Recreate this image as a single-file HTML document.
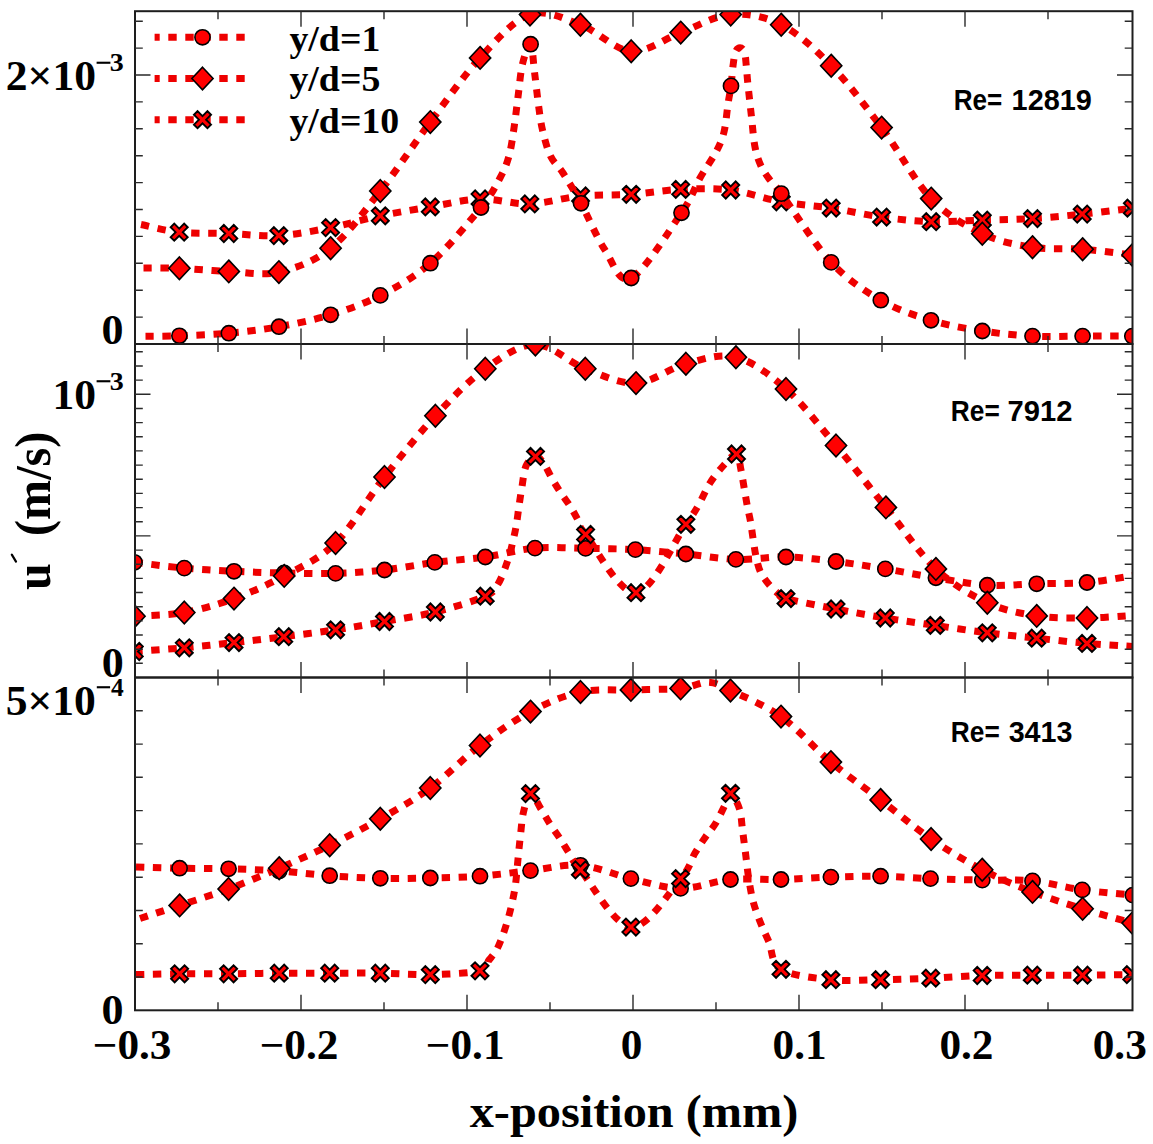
<!DOCTYPE html>
<html><head><meta charset="utf-8"><title>chart</title>
<style>html,body{margin:0;padding:0;background:#fff;width:1153px;height:1144px;overflow:hidden}svg{display:block}</style>
</head><body>
<svg width="1153" height="1144" viewBox="0 0 1153 1144">
<defs>
<clipPath id="cp0"><rect x="135.0" y="11.2" width="997.5" height="332.8"/></clipPath>
<clipPath id="cp1"><rect x="135.0" y="344.0" width="997.5" height="333.5"/></clipPath>
<clipPath id="cp2"><rect x="135.0" y="677.5" width="997.5" height="332.8"/></clipPath>
</defs>
<rect width="1153" height="1144" fill="#fff"/>
<g clip-path="url(#cp0)">
<path d="M141.00 224.50 C147.37 225.78 164.57 230.70 179.20 232.20 C193.83 233.70 212.20 232.93 228.80 233.50 C245.40 234.07 261.83 236.58 278.80 235.60 C295.77 234.62 313.68 230.90 330.60 227.60 C347.52 224.30 363.68 219.25 380.30 215.80 C396.92 212.35 413.67 209.70 430.30 206.90 C446.93 204.10 463.52 199.50 480.10 199.00 C496.68 198.50 513.05 204.40 529.80 203.90 C546.55 203.40 563.70 197.60 580.60 196.00 C597.50 194.40 614.52 195.40 631.20 194.30 C647.88 193.20 664.12 190.12 680.70 189.40 C697.28 188.68 713.93 187.93 730.70 190.00 C747.47 192.07 764.55 198.78 781.30 201.80 C798.05 204.82 814.48 205.55 831.20 208.10 C847.92 210.65 864.93 214.83 881.60 217.10 C898.27 219.37 914.42 221.20 931.20 221.70 C947.98 222.20 965.42 220.62 982.30 220.10 C999.18 219.58 1015.85 219.60 1032.50 218.60 C1049.15 217.60 1065.55 215.83 1082.20 214.10 C1098.85 212.37 1124.03 209.18 1132.40 208.20" fill="none" stroke="#ee0000" stroke-width="7" stroke-dasharray="8.4 8.6"/>
<g fill="#ff0000" stroke="#000000" stroke-width="1.9" stroke-linejoin="miter">
<path d="M187.75 237.15L184.15 240.75L179.20 235.80L174.25 240.75L170.65 237.15L175.60 232.20L170.65 227.25L174.25 223.65L179.20 228.60L184.15 223.65L187.75 227.25L182.80 232.20Z"/>
<path d="M237.35 238.45L233.75 242.05L228.80 237.10L223.85 242.05L220.25 238.45L225.20 233.50L220.25 228.55L223.85 224.95L228.80 229.90L233.75 224.95L237.35 228.55L232.40 233.50Z"/>
<path d="M287.35 240.55L283.75 244.15L278.80 239.20L273.85 244.15L270.25 240.55L275.20 235.60L270.25 230.65L273.85 227.05L278.80 232.00L283.75 227.05L287.35 230.65L282.40 235.60Z"/>
<path d="M339.15 232.55L335.55 236.15L330.60 231.20L325.65 236.15L322.05 232.55L327.00 227.60L322.05 222.65L325.65 219.05L330.60 224.00L335.55 219.05L339.15 222.65L334.20 227.60Z"/>
<path d="M388.85 220.75L385.25 224.35L380.30 219.40L375.35 224.35L371.75 220.75L376.70 215.80L371.75 210.85L375.35 207.25L380.30 212.20L385.25 207.25L388.85 210.85L383.90 215.80Z"/>
<path d="M438.85 211.85L435.25 215.45L430.30 210.50L425.35 215.45L421.75 211.85L426.70 206.90L421.75 201.95L425.35 198.35L430.30 203.30L435.25 198.35L438.85 201.95L433.90 206.90Z"/>
<path d="M488.65 203.95L485.05 207.55L480.10 202.60L475.15 207.55L471.55 203.95L476.50 199.00L471.55 194.05L475.15 190.45L480.10 195.40L485.05 190.45L488.65 194.05L483.70 199.00Z"/>
<path d="M538.35 208.85L534.75 212.45L529.80 207.50L524.85 212.45L521.25 208.85L526.20 203.90L521.25 198.95L524.85 195.35L529.80 200.30L534.75 195.35L538.35 198.95L533.40 203.90Z"/>
<path d="M589.15 200.95L585.55 204.55L580.60 199.60L575.65 204.55L572.05 200.95L577.00 196.00L572.05 191.05L575.65 187.45L580.60 192.40L585.55 187.45L589.15 191.05L584.20 196.00Z"/>
<path d="M639.75 199.25L636.15 202.85L631.20 197.90L626.25 202.85L622.65 199.25L627.60 194.30L622.65 189.35L626.25 185.75L631.20 190.70L636.15 185.75L639.75 189.35L634.80 194.30Z"/>
<path d="M689.25 194.35L685.65 197.95L680.70 193.00L675.75 197.95L672.15 194.35L677.10 189.40L672.15 184.45L675.75 180.85L680.70 185.80L685.65 180.85L689.25 184.45L684.30 189.40Z"/>
<path d="M739.25 194.95L735.65 198.55L730.70 193.60L725.75 198.55L722.15 194.95L727.10 190.00L722.15 185.05L725.75 181.45L730.70 186.40L735.65 181.45L739.25 185.05L734.30 190.00Z"/>
<path d="M789.85 206.75L786.25 210.35L781.30 205.40L776.35 210.35L772.75 206.75L777.70 201.80L772.75 196.85L776.35 193.25L781.30 198.20L786.25 193.25L789.85 196.85L784.90 201.80Z"/>
<path d="M839.75 213.05L836.15 216.65L831.20 211.70L826.25 216.65L822.65 213.05L827.60 208.10L822.65 203.15L826.25 199.55L831.20 204.50L836.15 199.55L839.75 203.15L834.80 208.10Z"/>
<path d="M890.15 222.05L886.55 225.65L881.60 220.70L876.65 225.65L873.05 222.05L878.00 217.10L873.05 212.15L876.65 208.55L881.60 213.50L886.55 208.55L890.15 212.15L885.20 217.10Z"/>
<path d="M939.75 226.65L936.15 230.25L931.20 225.30L926.25 230.25L922.65 226.65L927.60 221.70L922.65 216.75L926.25 213.15L931.20 218.10L936.15 213.15L939.75 216.75L934.80 221.70Z"/>
<path d="M990.85 225.05L987.25 228.65L982.30 223.70L977.35 228.65L973.75 225.05L978.70 220.10L973.75 215.15L977.35 211.55L982.30 216.50L987.25 211.55L990.85 215.15L985.90 220.10Z"/>
<path d="M1041.05 223.55L1037.45 227.15L1032.50 222.20L1027.55 227.15L1023.95 223.55L1028.90 218.60L1023.95 213.65L1027.55 210.05L1032.50 215.00L1037.45 210.05L1041.05 213.65L1036.10 218.60Z"/>
<path d="M1090.75 219.05L1087.15 222.65L1082.20 217.70L1077.25 222.65L1073.65 219.05L1078.60 214.10L1073.65 209.15L1077.25 205.55L1082.20 210.50L1087.15 205.55L1090.75 209.15L1085.80 214.10Z"/>
<path d="M1140.95 213.15L1137.35 216.75L1132.40 211.80L1127.45 216.75L1123.85 213.15L1128.80 208.20L1123.85 203.25L1127.45 199.65L1132.40 204.60L1137.35 199.65L1140.95 203.25L1136.00 208.20Z"/>
</g>
<path d="M145.50 336.30 C151.15 336.22 165.50 336.32 179.40 335.80 C193.30 335.28 212.30 334.72 228.90 333.20 C245.50 331.68 262.05 329.77 279.00 326.70 C295.95 323.63 313.72 320.02 330.60 314.80 C347.48 309.58 363.67 304.00 380.30 295.40 C396.93 286.80 413.62 277.85 430.40 263.20 C447.18 248.55 469.40 221.70 481.00 207.50 C492.60 193.30 495.33 186.58 500.00 178.00 C504.67 169.42 506.67 164.33 509.00 156.00 C511.33 147.67 512.50 137.83 514.00 128.00 C515.50 118.17 516.58 107.67 518.00 97.00 C519.42 86.33 520.40 72.80 522.50 64.00 C524.60 55.20 528.60 42.87 530.60 44.20 C532.60 45.53 533.18 61.87 534.50 72.00 C535.82 82.13 537.17 95.33 538.50 105.00 C539.83 114.67 540.50 121.50 542.50 130.00 C544.50 138.50 547.08 148.83 550.50 156.00 C553.92 163.17 557.92 165.12 563.00 173.00 C568.08 180.88 574.00 190.47 581.00 203.30 C588.00 216.13 596.63 237.55 605.00 250.00 C613.37 262.45 618.45 284.20 631.20 278.00 C643.95 271.80 670.03 229.47 681.50 212.80 C692.97 196.13 694.25 188.13 700.00 178.00 C705.75 167.87 712.00 159.67 716.00 152.00 C720.00 144.33 722.00 140.00 724.00 132.00 C726.00 124.00 726.83 111.68 728.00 104.00 C729.17 96.32 730.17 92.23 731.00 85.90 C731.83 79.57 732.25 71.65 733.00 66.00 C733.75 60.35 734.33 55.03 735.50 52.00 C736.67 48.97 738.50 47.80 740.00 47.80 C741.50 47.80 743.45 48.97 744.50 52.00 C745.55 55.03 745.75 60.83 746.30 66.00 C746.85 71.17 746.93 74.50 747.80 83.00 C748.67 91.50 750.30 106.33 751.50 117.00 C752.70 127.67 753.42 138.83 755.00 147.00 C756.58 155.17 758.50 160.50 761.00 166.00 C763.50 171.50 766.62 175.40 770.00 180.00 C773.38 184.60 771.10 179.87 781.30 193.60 C791.50 207.33 814.62 244.63 831.20 262.40 C847.78 280.17 864.17 290.55 880.80 300.20 C897.43 309.85 914.08 315.17 931.00 320.30 C947.92 325.43 965.38 328.37 982.30 331.00 C999.22 333.63 1015.78 335.25 1032.50 336.10 C1049.22 336.95 1065.97 336.10 1082.60 336.10 C1099.23 336.10 1124.02 336.10 1132.30 336.10" fill="none" stroke="#ee0000" stroke-width="7" stroke-dasharray="8.4 8.6"/>
<g fill="#ff0000" stroke="#000000" stroke-width="1.6" stroke-linejoin="miter">
<circle cx="179.4" cy="335.8" r="7.6"/>
<circle cx="228.9" cy="333.2" r="7.6"/>
<circle cx="279.0" cy="326.7" r="7.6"/>
<circle cx="330.6" cy="314.8" r="7.6"/>
<circle cx="380.3" cy="295.4" r="7.6"/>
<circle cx="430.4" cy="263.2" r="7.6"/>
<circle cx="481.0" cy="207.5" r="7.6"/>
<circle cx="530.6" cy="44.2" r="7.6"/>
<circle cx="581.0" cy="203.3" r="7.6"/>
<circle cx="631.2" cy="278.0" r="7.6"/>
<circle cx="681.5" cy="212.8" r="7.6"/>
<circle cx="731.0" cy="85.9" r="7.6"/>
<circle cx="781.3" cy="193.6" r="7.6"/>
<circle cx="831.2" cy="262.4" r="7.6"/>
<circle cx="880.8" cy="300.2" r="7.6"/>
<circle cx="931.0" cy="320.3" r="7.6"/>
<circle cx="982.3" cy="331.0" r="7.6"/>
<circle cx="1032.5" cy="336.1" r="7.6"/>
<circle cx="1082.6" cy="336.1" r="7.6"/>
<circle cx="1132.3" cy="336.1" r="7.6"/>
</g>
<path d="M143.50 268.00 C149.48 268.05 165.18 267.73 179.40 268.30 C193.62 268.87 212.22 270.77 228.80 271.40 C245.38 272.03 261.93 275.97 278.90 272.10 C295.87 268.23 313.70 261.72 330.60 248.20 C347.50 234.68 363.68 212.02 380.30 191.00 C396.92 169.98 413.67 144.28 430.30 122.10 C446.93 99.92 463.48 75.83 480.10 57.90 C496.72 39.97 513.28 20.03 530.00 14.50 C546.72 8.97 563.53 18.57 580.40 24.70 C597.27 30.83 614.48 49.98 631.20 51.30 C647.92 52.62 664.12 38.73 680.70 32.60 C697.28 26.47 713.95 15.82 730.70 14.50 C747.45 13.18 764.45 16.17 781.20 24.70 C797.95 33.23 814.47 48.55 831.20 65.70 C847.93 82.85 864.93 105.45 881.60 127.60 C898.27 149.75 914.42 180.92 931.20 198.60 C947.98 216.28 965.42 225.60 982.30 233.70 C999.18 241.80 1015.78 244.62 1032.50 247.20 C1049.22 249.78 1065.93 247.90 1082.60 249.20 C1099.27 250.50 1124.18 254.03 1132.50 255.00" fill="none" stroke="#ee0000" stroke-width="7" stroke-dasharray="8.4 8.6"/>
<g fill="#ff0000" stroke="#000000" stroke-width="1.6" stroke-linejoin="miter">
<path d="M179.4 257.0L190.0 268.3L179.4 279.6L168.8 268.3Z"/>
<path d="M228.8 260.1L239.4 271.4L228.8 282.7L218.2 271.4Z"/>
<path d="M278.9 260.8L289.5 272.1L278.9 283.4L268.3 272.1Z"/>
<path d="M330.6 236.9L341.2 248.2L330.6 259.5L320.0 248.2Z"/>
<path d="M380.3 179.7L390.9 191.0L380.3 202.3L369.7 191.0Z"/>
<path d="M430.3 110.8L440.9 122.1L430.3 133.4L419.7 122.1Z"/>
<path d="M480.1 46.6L490.7 57.9L480.1 69.2L469.5 57.9Z"/>
<path d="M530.0 3.2L540.6 14.5L530.0 25.8L519.4 14.5Z"/>
<path d="M580.4 13.4L591.0 24.7L580.4 36.0L569.8 24.7Z"/>
<path d="M631.2 40.0L641.8 51.3L631.2 62.6L620.6 51.3Z"/>
<path d="M680.7 21.3L691.3 32.6L680.7 43.9L670.1 32.6Z"/>
<path d="M730.7 3.2L741.3 14.5L730.7 25.8L720.1 14.5Z"/>
<path d="M781.2 13.4L791.8 24.7L781.2 36.0L770.6 24.7Z"/>
<path d="M831.2 54.4L841.8 65.7L831.2 77.0L820.6 65.7Z"/>
<path d="M881.6 116.3L892.2 127.6L881.6 138.9L871.0 127.6Z"/>
<path d="M931.2 187.3L941.8 198.6L931.2 209.9L920.6 198.6Z"/>
<path d="M982.3 222.4L992.9 233.7L982.3 245.0L971.7 233.7Z"/>
<path d="M1032.5 235.9L1043.1 247.2L1032.5 258.5L1021.9 247.2Z"/>
<path d="M1082.6 237.9L1093.2 249.2L1082.6 260.5L1072.0 249.2Z"/>
<path d="M1132.5 243.7L1143.1 255.0L1132.5 266.3L1121.9 255.0Z"/>
</g>
</g>
<g clip-path="url(#cp1)">
<path d="M134.50 562.30 C142.80 563.27 167.72 566.60 184.30 568.10 C200.88 569.60 217.35 570.48 234.00 571.30 C250.65 572.12 267.27 572.65 284.20 573.00 C301.13 573.35 318.88 573.90 335.60 573.40 C352.32 572.90 367.97 571.83 384.50 570.00 C401.03 568.17 418.00 564.57 434.80 562.40 C451.60 560.23 468.60 559.38 485.30 557.00 C502.00 554.62 518.28 549.53 535.00 548.10 C551.72 546.67 568.87 548.15 585.60 548.40 C602.33 548.65 618.68 548.67 635.40 549.60 C652.12 550.53 669.15 552.37 685.90 554.00 C702.65 555.63 719.22 558.90 735.90 559.40 C752.58 559.90 769.32 556.65 786.00 557.00 C802.68 557.35 819.45 559.52 836.00 561.50 C852.55 563.48 868.65 566.18 885.30 568.90 C901.95 571.62 918.90 575.08 935.90 577.80 C952.90 580.52 970.50 584.20 987.30 585.20 C1004.10 586.20 1020.08 584.25 1036.70 583.80 C1053.32 583.35 1070.78 583.88 1087.00 582.50 C1103.22 581.12 1126.17 576.67 1134.00 575.50" fill="none" stroke="#ee0000" stroke-width="7" stroke-dasharray="8.4 8.6"/>
<g fill="#ff0000" stroke="#000000" stroke-width="1.6" stroke-linejoin="miter">
<circle cx="134.5" cy="562.3" r="7.6"/>
<circle cx="184.3" cy="568.1" r="7.6"/>
<circle cx="234.0" cy="571.3" r="7.6"/>
<circle cx="284.2" cy="573.0" r="7.6"/>
<circle cx="335.6" cy="573.4" r="7.6"/>
<circle cx="384.5" cy="570.0" r="7.6"/>
<circle cx="434.8" cy="562.4" r="7.6"/>
<circle cx="485.3" cy="557.0" r="7.6"/>
<circle cx="535.0" cy="548.1" r="7.6"/>
<circle cx="585.6" cy="548.4" r="7.6"/>
<circle cx="635.4" cy="549.6" r="7.6"/>
<circle cx="685.9" cy="554.0" r="7.6"/>
<circle cx="735.9" cy="559.4" r="7.6"/>
<circle cx="786.0" cy="557.0" r="7.6"/>
<circle cx="836.0" cy="561.5" r="7.6"/>
<circle cx="885.3" cy="568.9" r="7.6"/>
<circle cx="935.9" cy="577.8" r="7.6"/>
<circle cx="987.3" cy="585.2" r="7.6"/>
<circle cx="1036.7" cy="583.8" r="7.6"/>
<circle cx="1087.0" cy="582.5" r="7.6"/>
</g>
<path d="M134.50 616.20 C142.80 615.58 167.72 615.43 184.30 612.50 C200.88 609.57 217.35 604.70 234.00 598.60 C250.65 592.50 267.27 585.17 284.20 575.90 C301.13 566.63 318.88 559.48 335.60 543.00 C352.32 526.52 367.87 498.20 384.50 477.00 C401.13 455.80 418.60 433.83 435.40 415.80 C452.20 397.77 468.63 380.68 485.30 368.80 C501.97 356.92 518.73 344.50 535.40 344.50 C552.07 344.50 568.53 362.37 585.30 368.80 C602.07 375.23 619.23 383.93 636.00 383.10 C652.77 382.27 669.25 368.12 685.90 363.80 C702.55 359.48 719.22 353.00 735.90 357.20 C752.58 361.40 769.32 374.28 786.00 389.00 C802.68 403.72 819.35 425.77 836.00 445.50 C852.65 465.23 869.25 486.83 885.90 507.40 C902.55 527.97 919.00 553.02 935.90 568.90 C952.80 584.78 970.50 594.87 987.30 602.70 C1004.10 610.53 1020.08 613.35 1036.70 615.90 C1053.32 618.45 1070.78 618.10 1087.00 618.00 C1103.22 617.90 1126.17 615.75 1134.00 615.30" fill="none" stroke="#ee0000" stroke-width="7" stroke-dasharray="8.4 8.6"/>
<g fill="#ff0000" stroke="#000000" stroke-width="1.6" stroke-linejoin="miter">
<path d="M134.5 604.9L145.1 616.2L134.5 627.5L123.9 616.2Z"/>
<path d="M184.3 601.2L194.9 612.5L184.3 623.8L173.7 612.5Z"/>
<path d="M234.0 587.3L244.6 598.6L234.0 609.9L223.4 598.6Z"/>
<path d="M284.2 564.6L294.8 575.9L284.2 587.2L273.6 575.9Z"/>
<path d="M335.6 531.7L346.2 543.0L335.6 554.3L325.0 543.0Z"/>
<path d="M384.5 465.7L395.1 477.0L384.5 488.3L373.9 477.0Z"/>
<path d="M435.4 404.5L446.0 415.8L435.4 427.1L424.8 415.8Z"/>
<path d="M485.3 357.5L495.9 368.8L485.3 380.1L474.7 368.8Z"/>
<path d="M535.4 333.2L546.0 344.5L535.4 355.8L524.8 344.5Z"/>
<path d="M585.3 357.5L595.9 368.8L585.3 380.1L574.7 368.8Z"/>
<path d="M636.0 371.8L646.6 383.1L636.0 394.4L625.4 383.1Z"/>
<path d="M685.9 352.5L696.5 363.8L685.9 375.1L675.3 363.8Z"/>
<path d="M735.9 345.9L746.5 357.2L735.9 368.5L725.3 357.2Z"/>
<path d="M786.0 377.7L796.6 389.0L786.0 400.3L775.4 389.0Z"/>
<path d="M836.0 434.2L846.6 445.5L836.0 456.8L825.4 445.5Z"/>
<path d="M885.9 496.1L896.5 507.4L885.9 518.7L875.3 507.4Z"/>
<path d="M935.9 557.6L946.5 568.9L935.9 580.2L925.3 568.9Z"/>
<path d="M987.3 591.4L997.9 602.7L987.3 614.0L976.7 602.7Z"/>
<path d="M1036.7 604.6L1047.3 615.9L1036.7 627.2L1026.1 615.9Z"/>
<path d="M1087.0 606.7L1097.6 618.0L1087.0 629.3L1076.4 618.0Z"/>
</g>
<path d="M134.30 651.50 C142.63 650.88 167.68 649.28 184.30 647.80 C200.92 646.32 217.42 644.45 234.00 642.60 C250.58 640.75 266.87 638.83 283.80 636.70 C300.73 634.57 318.82 632.33 335.60 629.80 C352.38 627.27 367.87 624.47 384.50 621.50 C401.13 618.53 418.60 616.22 435.40 612.00 C452.20 607.78 474.87 600.87 485.30 596.20 C495.73 591.53 494.25 589.97 498.00 584.00 C501.75 578.03 505.25 567.80 507.80 560.40 C510.35 553.00 511.85 545.67 513.30 539.60 C514.75 533.53 515.55 529.60 516.50 524.00 C517.45 518.40 518.12 512.00 519.00 506.00 C519.88 500.00 520.63 494.67 521.80 488.00 C522.97 481.33 523.72 471.27 526.00 466.00 C528.28 460.73 532.53 456.82 535.50 456.40 C538.47 455.98 541.05 459.80 543.80 463.50 C546.55 467.20 549.22 473.78 552.00 478.60 C554.78 483.42 557.47 487.78 560.50 492.40 C563.53 497.02 567.20 501.53 570.20 506.30 C573.20 511.07 575.93 516.30 578.50 521.00 C581.07 525.70 576.02 522.55 585.60 534.50 C595.18 546.45 619.28 594.40 636.00 592.70 C652.72 591.00 675.57 538.75 685.90 524.30 C696.23 509.85 693.98 512.88 698.00 506.00 C702.02 499.12 705.67 489.83 710.00 483.00 C714.33 476.17 719.58 469.83 724.00 465.00 C728.42 460.17 733.67 453.17 736.50 454.00 C739.33 454.83 739.67 464.00 741.00 470.00 C742.33 476.00 743.42 483.83 744.50 490.00 C745.58 496.17 746.48 501.67 747.50 507.00 C748.52 512.33 749.62 516.33 750.60 522.00 C751.58 527.67 752.45 535.00 753.40 541.00 C754.35 547.00 755.12 552.83 756.30 558.00 C757.48 563.17 758.45 567.67 760.50 572.00 C762.55 576.33 765.62 580.37 768.60 584.00 C771.58 587.63 775.50 591.37 778.40 593.80 C781.30 596.23 776.40 596.07 786.00 598.60 C795.60 601.13 819.45 605.77 836.00 609.00 C852.55 612.23 868.75 615.27 885.30 618.00 C901.85 620.73 918.30 622.93 935.30 625.40 C952.30 627.87 970.40 630.67 987.30 632.80 C1004.20 634.93 1020.08 636.43 1036.70 638.20 C1053.32 639.97 1070.78 642.02 1087.00 643.40 C1103.22 644.78 1126.17 645.98 1134.00 646.50" fill="none" stroke="#ee0000" stroke-width="7" stroke-dasharray="8.4 8.6"/>
<g fill="#ff0000" stroke="#000000" stroke-width="1.9" stroke-linejoin="miter">
<path d="M142.85 656.45L139.25 660.05L134.30 655.10L129.35 660.05L125.75 656.45L130.70 651.50L125.75 646.55L129.35 642.95L134.30 647.90L139.25 642.95L142.85 646.55L137.90 651.50Z"/>
<path d="M192.85 652.75L189.25 656.35L184.30 651.40L179.35 656.35L175.75 652.75L180.70 647.80L175.75 642.85L179.35 639.25L184.30 644.20L189.25 639.25L192.85 642.85L187.90 647.80Z"/>
<path d="M242.55 647.55L238.95 651.15L234.00 646.20L229.05 651.15L225.45 647.55L230.40 642.60L225.45 637.65L229.05 634.05L234.00 639.00L238.95 634.05L242.55 637.65L237.60 642.60Z"/>
<path d="M292.35 641.65L288.75 645.25L283.80 640.30L278.85 645.25L275.25 641.65L280.20 636.70L275.25 631.75L278.85 628.15L283.80 633.10L288.75 628.15L292.35 631.75L287.40 636.70Z"/>
<path d="M344.15 634.75L340.55 638.35L335.60 633.40L330.65 638.35L327.05 634.75L332.00 629.80L327.05 624.85L330.65 621.25L335.60 626.20L340.55 621.25L344.15 624.85L339.20 629.80Z"/>
<path d="M393.05 626.45L389.45 630.05L384.50 625.10L379.55 630.05L375.95 626.45L380.90 621.50L375.95 616.55L379.55 612.95L384.50 617.90L389.45 612.95L393.05 616.55L388.10 621.50Z"/>
<path d="M443.95 616.95L440.35 620.55L435.40 615.60L430.45 620.55L426.85 616.95L431.80 612.00L426.85 607.05L430.45 603.45L435.40 608.40L440.35 603.45L443.95 607.05L439.00 612.00Z"/>
<path d="M493.85 601.15L490.25 604.75L485.30 599.80L480.35 604.75L476.75 601.15L481.70 596.20L476.75 591.25L480.35 587.65L485.30 592.60L490.25 587.65L493.85 591.25L488.90 596.20Z"/>
<path d="M544.05 461.35L540.45 464.95L535.50 460.00L530.55 464.95L526.95 461.35L531.90 456.40L526.95 451.45L530.55 447.85L535.50 452.80L540.45 447.85L544.05 451.45L539.10 456.40Z"/>
<path d="M594.15 539.45L590.55 543.05L585.60 538.10L580.65 543.05L577.05 539.45L582.00 534.50L577.05 529.55L580.65 525.95L585.60 530.90L590.55 525.95L594.15 529.55L589.20 534.50Z"/>
<path d="M644.55 597.65L640.95 601.25L636.00 596.30L631.05 601.25L627.45 597.65L632.40 592.70L627.45 587.75L631.05 584.15L636.00 589.10L640.95 584.15L644.55 587.75L639.60 592.70Z"/>
<path d="M694.45 529.25L690.85 532.85L685.90 527.90L680.95 532.85L677.35 529.25L682.30 524.30L677.35 519.35L680.95 515.75L685.90 520.70L690.85 515.75L694.45 519.35L689.50 524.30Z"/>
<path d="M745.05 458.95L741.45 462.55L736.50 457.60L731.55 462.55L727.95 458.95L732.90 454.00L727.95 449.05L731.55 445.45L736.50 450.40L741.45 445.45L745.05 449.05L740.10 454.00Z"/>
<path d="M794.55 603.55L790.95 607.15L786.00 602.20L781.05 607.15L777.45 603.55L782.40 598.60L777.45 593.65L781.05 590.05L786.00 595.00L790.95 590.05L794.55 593.65L789.60 598.60Z"/>
<path d="M844.55 613.95L840.95 617.55L836.00 612.60L831.05 617.55L827.45 613.95L832.40 609.00L827.45 604.05L831.05 600.45L836.00 605.40L840.95 600.45L844.55 604.05L839.60 609.00Z"/>
<path d="M893.85 622.95L890.25 626.55L885.30 621.60L880.35 626.55L876.75 622.95L881.70 618.00L876.75 613.05L880.35 609.45L885.30 614.40L890.25 609.45L893.85 613.05L888.90 618.00Z"/>
<path d="M943.85 630.35L940.25 633.95L935.30 629.00L930.35 633.95L926.75 630.35L931.70 625.40L926.75 620.45L930.35 616.85L935.30 621.80L940.25 616.85L943.85 620.45L938.90 625.40Z"/>
<path d="M995.85 637.75L992.25 641.35L987.30 636.40L982.35 641.35L978.75 637.75L983.70 632.80L978.75 627.85L982.35 624.25L987.30 629.20L992.25 624.25L995.85 627.85L990.90 632.80Z"/>
<path d="M1045.25 643.15L1041.65 646.75L1036.70 641.80L1031.75 646.75L1028.15 643.15L1033.10 638.20L1028.15 633.25L1031.75 629.65L1036.70 634.60L1041.65 629.65L1045.25 633.25L1040.30 638.20Z"/>
<path d="M1095.55 648.35L1091.95 651.95L1087.00 647.00L1082.05 651.95L1078.45 648.35L1083.40 643.40L1078.45 638.45L1082.05 634.85L1087.00 639.80L1091.95 634.85L1095.55 638.45L1090.60 643.40Z"/>
</g>
</g>
<g clip-path="url(#cp2)">
<path d="M136.00 867.00 C143.27 867.20 164.17 867.90 179.60 868.20 C195.03 868.50 212.00 868.33 228.60 868.80 C245.20 869.27 262.35 869.85 279.20 871.00 C296.05 872.15 312.85 874.48 329.70 875.70 C346.55 876.92 363.53 877.92 380.30 878.30 C397.07 878.68 413.68 878.35 430.30 878.00 C446.92 877.65 463.30 877.43 480.00 876.20 C496.70 874.97 513.75 872.42 530.50 870.60 C547.25 868.78 563.77 863.97 580.50 865.30 C597.23 866.63 614.22 874.75 630.90 878.60 C647.58 882.45 664.00 888.25 680.60 888.40 C697.20 888.55 713.77 880.98 730.50 879.50 C747.23 878.02 764.27 879.90 781.00 879.50 C797.73 879.10 814.30 877.65 830.90 877.10 C847.50 876.55 864.00 875.95 880.60 876.20 C897.20 876.45 913.55 877.95 930.50 878.60 C947.45 879.25 965.30 879.72 982.30 880.10 C999.30 880.48 1015.85 879.27 1032.50 880.90 C1049.15 882.53 1065.48 887.53 1082.20 889.90 C1098.92 892.27 1124.37 894.23 1132.80 895.10" fill="none" stroke="#ee0000" stroke-width="7" stroke-dasharray="8.4 8.6"/>
<g fill="#ff0000" stroke="#000000" stroke-width="1.6" stroke-linejoin="miter">
<circle cx="179.6" cy="868.2" r="7.6"/>
<circle cx="228.6" cy="868.8" r="7.6"/>
<circle cx="279.2" cy="871.0" r="7.6"/>
<circle cx="329.7" cy="875.7" r="7.6"/>
<circle cx="380.3" cy="878.3" r="7.6"/>
<circle cx="430.3" cy="878.0" r="7.6"/>
<circle cx="480.0" cy="876.2" r="7.6"/>
<circle cx="530.5" cy="870.6" r="7.6"/>
<circle cx="580.5" cy="865.3" r="7.6"/>
<circle cx="630.9" cy="878.6" r="7.6"/>
<circle cx="680.6" cy="888.4" r="7.6"/>
<circle cx="730.5" cy="879.5" r="7.6"/>
<circle cx="781.0" cy="879.5" r="7.6"/>
<circle cx="830.9" cy="877.1" r="7.6"/>
<circle cx="880.6" cy="876.2" r="7.6"/>
<circle cx="930.5" cy="878.6" r="7.6"/>
<circle cx="982.3" cy="880.1" r="7.6"/>
<circle cx="1032.5" cy="880.9" r="7.6"/>
<circle cx="1082.2" cy="889.9" r="7.6"/>
<circle cx="1132.8" cy="895.1" r="7.6"/>
</g>
<path d="M140.00 918.50 C146.60 916.32 164.83 910.32 179.60 905.40 C194.37 900.48 212.00 895.20 228.60 889.00 C245.20 882.80 262.35 875.48 279.20 868.20 C296.05 860.92 312.85 853.53 329.70 845.30 C346.55 837.07 363.53 828.35 380.30 818.80 C397.07 809.25 413.68 800.22 430.30 788.00 C446.92 775.78 463.30 758.23 480.00 745.50 C496.70 732.77 513.75 720.52 530.50 711.60 C547.25 702.68 563.77 695.62 580.50 692.00 C597.23 688.38 614.22 690.50 630.90 689.90 C647.58 689.30 667.75 689.67 680.60 688.40 C693.45 687.13 699.68 681.95 708.00 682.30 C716.32 682.65 718.33 684.78 730.50 690.50 C742.67 696.22 764.27 704.67 781.00 716.60 C797.73 728.53 814.30 748.22 830.90 762.10 C847.50 775.98 863.90 787.08 880.60 799.90 C897.30 812.72 914.17 827.37 931.10 839.00 C948.03 850.63 965.30 860.88 982.20 869.70 C999.10 878.52 1015.77 885.38 1032.50 891.90 C1049.23 898.42 1065.92 903.60 1082.60 908.80 C1099.28 914.00 1124.27 920.72 1132.60 923.10" fill="none" stroke="#ee0000" stroke-width="7" stroke-dasharray="8.4 8.6"/>
<g fill="#ff0000" stroke="#000000" stroke-width="1.6" stroke-linejoin="miter">
<path d="M179.6 894.1L190.2 905.4L179.6 916.7L169.0 905.4Z"/>
<path d="M228.6 877.7L239.2 889.0L228.6 900.3L218.0 889.0Z"/>
<path d="M279.2 856.9L289.8 868.2L279.2 879.5L268.6 868.2Z"/>
<path d="M329.7 834.0L340.3 845.3L329.7 856.6L319.1 845.3Z"/>
<path d="M380.3 807.5L390.9 818.8L380.3 830.1L369.7 818.8Z"/>
<path d="M430.3 776.7L440.9 788.0L430.3 799.3L419.7 788.0Z"/>
<path d="M480.0 734.2L490.6 745.5L480.0 756.8L469.4 745.5Z"/>
<path d="M530.5 700.3L541.1 711.6L530.5 722.9L519.9 711.6Z"/>
<path d="M580.5 680.7L591.1 692.0L580.5 703.3L569.9 692.0Z"/>
<path d="M630.9 678.6L641.5 689.9L630.9 701.2L620.3 689.9Z"/>
<path d="M680.6 677.1L691.2 688.4L680.6 699.7L670.0 688.4Z"/>
<path d="M730.5 679.2L741.1 690.5L730.5 701.8L719.9 690.5Z"/>
<path d="M781.0 705.3L791.6 716.6L781.0 727.9L770.4 716.6Z"/>
<path d="M830.9 750.8L841.5 762.1L830.9 773.4L820.3 762.1Z"/>
<path d="M880.6 788.6L891.2 799.9L880.6 811.2L870.0 799.9Z"/>
<path d="M931.1 827.7L941.7 839.0L931.1 850.3L920.5 839.0Z"/>
<path d="M982.2 858.4L992.8 869.7L982.2 881.0L971.6 869.7Z"/>
<path d="M1032.5 880.6L1043.1 891.9L1032.5 903.2L1021.9 891.9Z"/>
<path d="M1082.6 897.5L1093.2 908.8L1082.6 920.1L1072.0 908.8Z"/>
<path d="M1132.6 911.8L1143.2 923.1L1132.6 934.4L1122.0 923.1Z"/>
</g>
<path d="M136.00 974.60 C143.27 974.47 164.17 973.93 179.60 973.80 C195.03 973.67 212.00 973.90 228.60 973.80 C245.20 973.70 262.35 973.30 279.20 973.20 C296.05 973.10 312.85 973.20 329.70 973.20 C346.55 973.20 363.53 972.97 380.30 973.20 C397.07 973.43 413.68 975.00 430.30 974.60 C446.92 974.20 470.22 973.23 480.00 970.80 C489.78 968.37 486.25 963.47 489.00 960.00 C491.75 956.53 494.25 954.00 496.50 950.00 C498.75 946.00 500.58 941.17 502.50 936.00 C504.42 930.83 506.33 924.83 508.00 919.00 C509.67 913.17 511.22 907.00 512.50 901.00 C513.78 895.00 514.78 890.00 515.70 883.00 C516.62 876.00 517.20 867.00 518.00 859.00 C518.80 851.00 519.58 842.83 520.50 835.00 C521.42 827.17 521.83 818.90 523.50 812.00 C525.17 805.10 527.58 794.10 530.50 793.60 C533.42 793.10 537.75 803.93 541.00 809.00 C544.25 814.07 546.83 819.08 550.00 824.00 C553.17 828.92 556.83 833.67 560.00 838.50 C563.17 843.33 565.60 847.77 569.00 853.00 C572.40 858.23 570.08 857.55 580.40 869.90 C590.72 882.25 614.20 925.65 630.90 927.10 C647.60 928.55 669.92 890.95 680.60 878.60 C691.28 866.25 690.85 859.93 695.00 853.00 C699.15 846.07 702.08 841.92 705.50 837.00 C708.92 832.08 712.33 828.67 715.50 823.50 C718.67 818.33 722.00 811.03 724.50 806.00 C727.00 800.97 728.00 792.80 730.50 793.30 C733.00 793.80 737.50 802.88 739.50 809.00 C741.50 815.12 741.50 822.67 742.50 830.00 C743.50 837.33 744.50 845.17 745.50 853.00 C746.50 860.83 747.25 869.00 748.50 877.00 C749.75 885.00 751.08 893.58 753.00 901.00 C754.92 908.42 757.33 914.67 760.00 921.50 C762.67 928.33 765.50 934.03 769.00 942.00 C772.50 949.97 770.68 963.02 781.00 969.30 C791.32 975.58 814.30 977.97 830.90 979.70 C847.50 981.43 863.95 979.95 880.60 979.70 C897.25 979.45 913.87 978.90 930.80 978.20 C947.73 977.50 965.28 976.00 982.20 975.50 C999.12 975.00 1015.58 975.25 1032.30 975.20 C1049.02 975.15 1065.92 975.30 1082.50 975.20 C1099.08 975.10 1123.58 974.70 1131.80 974.60" fill="none" stroke="#ee0000" stroke-width="7" stroke-dasharray="8.4 8.6"/>
<g fill="#ff0000" stroke="#000000" stroke-width="1.9" stroke-linejoin="miter">
<path d="M188.15 978.75L184.55 982.35L179.60 977.40L174.65 982.35L171.05 978.75L176.00 973.80L171.05 968.85L174.65 965.25L179.60 970.20L184.55 965.25L188.15 968.85L183.20 973.80Z"/>
<path d="M237.15 978.75L233.55 982.35L228.60 977.40L223.65 982.35L220.05 978.75L225.00 973.80L220.05 968.85L223.65 965.25L228.60 970.20L233.55 965.25L237.15 968.85L232.20 973.80Z"/>
<path d="M287.75 978.15L284.15 981.75L279.20 976.80L274.25 981.75L270.65 978.15L275.60 973.20L270.65 968.25L274.25 964.65L279.20 969.60L284.15 964.65L287.75 968.25L282.80 973.20Z"/>
<path d="M338.25 978.15L334.65 981.75L329.70 976.80L324.75 981.75L321.15 978.15L326.10 973.20L321.15 968.25L324.75 964.65L329.70 969.60L334.65 964.65L338.25 968.25L333.30 973.20Z"/>
<path d="M388.85 978.15L385.25 981.75L380.30 976.80L375.35 981.75L371.75 978.15L376.70 973.20L371.75 968.25L375.35 964.65L380.30 969.60L385.25 964.65L388.85 968.25L383.90 973.20Z"/>
<path d="M438.85 979.55L435.25 983.15L430.30 978.20L425.35 983.15L421.75 979.55L426.70 974.60L421.75 969.65L425.35 966.05L430.30 971.00L435.25 966.05L438.85 969.65L433.90 974.60Z"/>
<path d="M488.55 975.75L484.95 979.35L480.00 974.40L475.05 979.35L471.45 975.75L476.40 970.80L471.45 965.85L475.05 962.25L480.00 967.20L484.95 962.25L488.55 965.85L483.60 970.80Z"/>
<path d="M539.05 798.55L535.45 802.15L530.50 797.20L525.55 802.15L521.95 798.55L526.90 793.60L521.95 788.65L525.55 785.05L530.50 790.00L535.45 785.05L539.05 788.65L534.10 793.60Z"/>
<path d="M588.95 874.85L585.35 878.45L580.40 873.50L575.45 878.45L571.85 874.85L576.80 869.90L571.85 864.95L575.45 861.35L580.40 866.30L585.35 861.35L588.95 864.95L584.00 869.90Z"/>
<path d="M639.45 932.05L635.85 935.65L630.90 930.70L625.95 935.65L622.35 932.05L627.30 927.10L622.35 922.15L625.95 918.55L630.90 923.50L635.85 918.55L639.45 922.15L634.50 927.10Z"/>
<path d="M689.15 883.55L685.55 887.15L680.60 882.20L675.65 887.15L672.05 883.55L677.00 878.60L672.05 873.65L675.65 870.05L680.60 875.00L685.55 870.05L689.15 873.65L684.20 878.60Z"/>
<path d="M739.05 798.25L735.45 801.85L730.50 796.90L725.55 801.85L721.95 798.25L726.90 793.30L721.95 788.35L725.55 784.75L730.50 789.70L735.45 784.75L739.05 788.35L734.10 793.30Z"/>
<path d="M789.55 974.25L785.95 977.85L781.00 972.90L776.05 977.85L772.45 974.25L777.40 969.30L772.45 964.35L776.05 960.75L781.00 965.70L785.95 960.75L789.55 964.35L784.60 969.30Z"/>
<path d="M839.45 984.65L835.85 988.25L830.90 983.30L825.95 988.25L822.35 984.65L827.30 979.70L822.35 974.75L825.95 971.15L830.90 976.10L835.85 971.15L839.45 974.75L834.50 979.70Z"/>
<path d="M889.15 984.65L885.55 988.25L880.60 983.30L875.65 988.25L872.05 984.65L877.00 979.70L872.05 974.75L875.65 971.15L880.60 976.10L885.55 971.15L889.15 974.75L884.20 979.70Z"/>
<path d="M939.35 983.15L935.75 986.75L930.80 981.80L925.85 986.75L922.25 983.15L927.20 978.20L922.25 973.25L925.85 969.65L930.80 974.60L935.75 969.65L939.35 973.25L934.40 978.20Z"/>
<path d="M990.75 980.45L987.15 984.05L982.20 979.10L977.25 984.05L973.65 980.45L978.60 975.50L973.65 970.55L977.25 966.95L982.20 971.90L987.15 966.95L990.75 970.55L985.80 975.50Z"/>
<path d="M1040.85 980.15L1037.25 983.75L1032.30 978.80L1027.35 983.75L1023.75 980.15L1028.70 975.20L1023.75 970.25L1027.35 966.65L1032.30 971.60L1037.25 966.65L1040.85 970.25L1035.90 975.20Z"/>
<path d="M1091.05 980.15L1087.45 983.75L1082.50 978.80L1077.55 983.75L1073.95 980.15L1078.90 975.20L1073.95 970.25L1077.55 966.65L1082.50 971.60L1087.45 966.65L1091.05 970.25L1086.10 975.20Z"/>
<path d="M1140.35 979.55L1136.75 983.15L1131.80 978.20L1126.85 983.15L1123.25 979.55L1128.20 974.60L1123.25 969.65L1126.85 966.05L1131.80 971.00L1136.75 966.05L1140.35 969.65L1135.40 974.60Z"/>
</g>
</g>
<g stroke="#1e1e1e" stroke-width="2.0" fill="none">
<rect x="135.0" y="11.2" width="997.5" height="332.8"/>
<rect x="135.0" y="344.0" width="997.5" height="333.5"/>
<rect x="135.0" y="677.5" width="997.5" height="332.8"/>
</g>
<g stroke="#2a2a2a" stroke-width="1.4" fill="none">
<path d="M218.0 11.2V19.2 M218.0 344.0V336.0 M301.0 11.2V26.7 M301.0 344.0V328.5 M384.0 11.2V19.2 M384.0 344.0V336.0 M467.0 11.2V26.7 M467.0 344.0V328.5 M550.0 11.2V19.2 M550.0 344.0V336.0 M633.0 11.2V26.7 M633.0 344.0V328.5 M716.0 11.2V19.2 M716.0 344.0V336.0 M799.0 11.2V26.7 M799.0 344.0V328.5 M882.0 11.2V19.2 M882.0 344.0V336.0 M965.0 11.2V26.7 M965.0 344.0V328.5 M1048.0 11.2V19.2 M1048.0 344.0V336.0 M218.0 344.0V352.0 M218.0 677.5V669.5 M301.0 344.0V359.5 M301.0 677.5V662.0 M384.0 344.0V352.0 M384.0 677.5V669.5 M467.0 344.0V359.5 M467.0 677.5V662.0 M550.0 344.0V352.0 M550.0 677.5V669.5 M633.0 344.0V359.5 M633.0 677.5V662.0 M716.0 344.0V352.0 M716.0 677.5V669.5 M799.0 344.0V359.5 M799.0 677.5V662.0 M882.0 344.0V352.0 M882.0 677.5V669.5 M965.0 344.0V359.5 M965.0 677.5V662.0 M1048.0 344.0V352.0 M1048.0 677.5V669.5 M218.0 677.5V685.5 M218.0 1010.3V1002.3 M301.0 677.5V693.0 M301.0 1010.3V994.8 M384.0 677.5V685.5 M384.0 1010.3V1002.3 M467.0 677.5V693.0 M467.0 1010.3V994.8 M550.0 677.5V685.5 M550.0 1010.3V1002.3 M633.0 677.5V693.0 M633.0 1010.3V994.8 M716.0 677.5V685.5 M716.0 1010.3V1002.3 M799.0 677.5V693.0 M799.0 1010.3V994.8 M882.0 677.5V685.5 M882.0 1010.3V1002.3 M965.0 677.5V693.0 M965.0 1010.3V994.8 M1048.0 677.5V685.5 M1048.0 1010.3V1002.3 M135.0 317.1H142.8 M1132.5 317.1H1124.7 M135.0 290.2H142.8 M1132.5 290.2H1124.7 M135.0 263.3H142.8 M1132.5 263.3H1124.7 M135.0 236.4H142.8 M1132.5 236.4H1124.7 M135.0 209.5H142.8 M1132.5 209.5H1124.7 M135.0 182.6H142.8 M1132.5 182.6H1124.7 M135.0 155.7H142.8 M1132.5 155.7H1124.7 M135.0 128.8H142.8 M1132.5 128.8H1124.7 M135.0 101.9H142.8 M1132.5 101.9H1124.7 M135.0 75.0H150.5 M1132.5 75.0H1117.0 M135.0 48.1H142.8 M1132.5 48.1H1124.7 M135.0 21.2H142.8 M1132.5 21.2H1124.7 M135.0 663.3H142.8 M1132.5 663.3H1124.7 M135.0 649.2H142.8 M1132.5 649.2H1124.7 M135.0 635.0H142.8 M1132.5 635.0H1124.7 M135.0 620.9H142.8 M1132.5 620.9H1124.7 M135.0 606.7H142.8 M1132.5 606.7H1124.7 M135.0 592.5H142.8 M1132.5 592.5H1124.7 M135.0 578.4H142.8 M1132.5 578.4H1124.7 M135.0 564.2H142.8 M1132.5 564.2H1124.7 M135.0 550.1H142.8 M1132.5 550.1H1124.7 M135.0 535.9H150.5 M1132.5 535.9H1117.0 M135.0 521.7H142.8 M1132.5 521.7H1124.7 M135.0 507.6H142.8 M1132.5 507.6H1124.7 M135.0 493.4H142.8 M1132.5 493.4H1124.7 M135.0 479.3H142.8 M1132.5 479.3H1124.7 M135.0 465.1H142.8 M1132.5 465.1H1124.7 M135.0 450.9H142.8 M1132.5 450.9H1124.7 M135.0 436.8H142.8 M1132.5 436.8H1124.7 M135.0 422.6H142.8 M1132.5 422.6H1124.7 M135.0 408.5H142.8 M1132.5 408.5H1124.7 M135.0 394.3H150.5 M1132.5 394.3H1117.0 M135.0 380.1H142.8 M1132.5 380.1H1124.7 M135.0 366.0H142.8 M1132.5 366.0H1124.7 M135.0 351.8H142.8 M1132.5 351.8H1124.7 M135.0 977.0H142.8 M1132.5 977.0H1124.7 M135.0 943.7H142.8 M1132.5 943.7H1124.7 M135.0 910.5H142.8 M1132.5 910.5H1124.7 M135.0 877.2H142.8 M1132.5 877.2H1124.7 M135.0 843.9H142.8 M1132.5 843.9H1124.7 M135.0 810.6H142.8 M1132.5 810.6H1124.7 M135.0 777.3H142.8 M1132.5 777.3H1124.7 M135.0 744.1H142.8 M1132.5 744.1H1124.7 M135.0 710.8H142.8 M1132.5 710.8H1124.7"/>
</g>
<g>
<path d="M154.6 37.3H245" stroke="#ee0000" stroke-width="7" stroke-dasharray="8.4 8.6" stroke-dashoffset="3.3"/>
<g fill="#ff0000" stroke="#000000" stroke-width="1.6"><circle cx="202.5" cy="37.3" r="7.6"/></g>
<path d="M154.6 78.5H245" stroke="#ee0000" stroke-width="7" stroke-dasharray="8.4 8.6" stroke-dashoffset="3.3"/>
<g fill="#ff0000" stroke="#000000" stroke-width="1.6"><path d="M202.5 67.2L213.1 78.5L202.5 89.8L191.9 78.5Z"/></g>
<path d="M154.6 119.7H245" stroke="#ee0000" stroke-width="7" stroke-dasharray="8.4 8.6" stroke-dashoffset="3.3"/>
<g fill="#ff0000" stroke="#000000" stroke-width="1.9"><path d="M211.05 124.65L207.45 128.25L202.50 123.30L197.55 128.25L193.95 124.65L198.90 119.70L193.95 114.75L197.55 111.15L202.50 116.10L207.45 111.15L211.05 114.75L206.10 119.70Z"/></g>
</g>
<g font-family="&quot;Liberation Serif&quot;, serif" font-weight="bold" fill="#000">
<text transform="translate(289.43 50.50) scale(1.075 1)" font-size="35.20">y/d=1</text>
<text transform="translate(289.43 91.40) scale(1.075 1)" font-size="35.20">y/d=5</text>
<text transform="translate(289.43 132.60) scale(1.075 1)" font-size="35.20">y/d=10</text>
<text transform="translate(5.77 89.90) scale(1.050 1)" font-size="41.50">2×10</text>
<rect x="96.6" y="61.7" width="13.8" height="2.1"/><text transform="translate(109.8 71.1) scale(1.12 1)" font-size="25">3</text>
<text transform="translate(52.38 408.70) scale(1.050 1)" font-size="41.50">10</text>
<rect x="96.6" y="380.2" width="13.8" height="2.1"/><text transform="translate(109.8 389.6) scale(1.12 1)" font-size="25">3</text>
<text transform="translate(5.67 714.60) scale(1.050 1)" font-size="41.50">5×10</text>
<rect x="96.8" y="686.2" width="13.3" height="2.1"/><text transform="translate(111.0 695.6) scale(1.02 1)" font-size="25">4</text>
<text transform="translate(101.50 344.00) scale(1.050 1)" font-size="41.90">0</text>
<text transform="translate(101.70 677.10) scale(1.050 1)" font-size="41.90">0</text>
<text transform="translate(101.55 1023.90) scale(1.050 1)" font-size="41.90">0</text>
<text transform="translate(92.74 1058.70) scale(1.050 1)" font-size="41.20">−0.3</text>
<text transform="translate(259.68 1058.70) scale(1.050 1)" font-size="41.20">−0.2</text>
<text transform="translate(425.82 1058.70) scale(1.050 1)" font-size="41.20">−0.1</text>
<text transform="translate(620.68 1058.70) scale(1.050 1)" font-size="41.20">0</text>
<text transform="translate(772.56 1058.70) scale(1.050 1)" font-size="41.20">0.1</text>
<text transform="translate(939.42 1058.70) scale(1.050 1)" font-size="41.20">0.2</text>
<text transform="translate(1092.73 1058.70) scale(1.050 1)" font-size="41.20">0.3</text>
<text transform="translate(469.72 1126.90) scale(1.050 1)" font-size="46.00">x-position (mm)</text>
<text transform="translate(50.1 590.1) rotate(-90) scale(1 1.037)" font-size="48.2">u<tspan dx="15.3"> </tspan>(m/s)</text>
</g>
<path d="M11.8 554.6L16 561.6" stroke="#000" stroke-width="2.2" stroke-linecap="round"/>
<g font-family="&quot;Liberation Sans&quot;, sans-serif" font-weight="bold" fill="#000">
<text transform="translate(953.75 110.00) scale(0.894 1)" font-size="29.20">Re=</text>
<text transform="translate(1011.58 110.00) scale(0.989 1)" font-size="29.20">12819</text>
<text transform="translate(950.84 420.60) scale(0.900 1)" font-size="29.20">Re=</text>
<text transform="translate(1007.55 420.60) scale(0.999 1)" font-size="29.20">7912</text>
<text transform="translate(950.84 742.40) scale(0.900 1)" font-size="29.20">Re=</text>
<text transform="translate(1008.64 742.40) scale(0.984 1)" font-size="29.20">3413</text>
</g>
</svg>
</body></html>
